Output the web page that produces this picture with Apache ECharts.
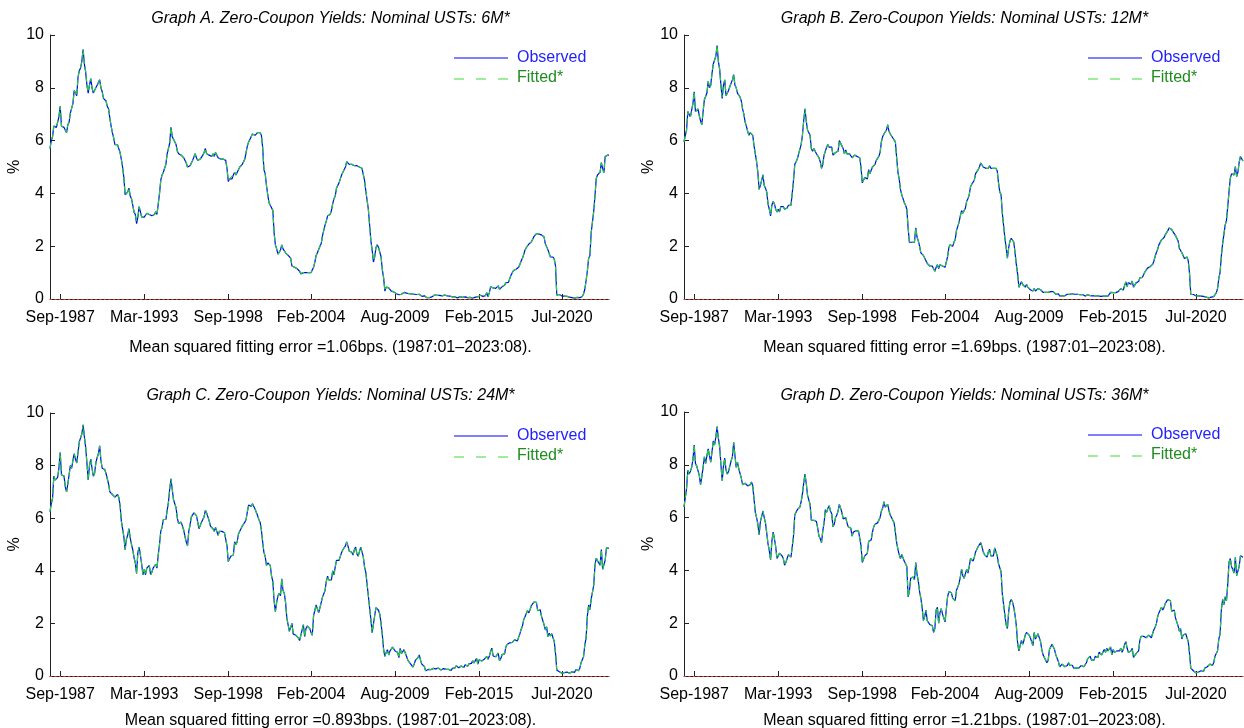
<!DOCTYPE html>
<html>
<head>
<meta charset="utf-8">
<script src="https://cdn.jsdelivr.net/npm/echarts@6/dist/echarts.min.js"></script>
<style>
  html, body { margin: 0; padding: 0; background: #ffffff; }
  #chart { width: 1244px; height: 728px; }
</style>
</head>
<body>
<div id="chart"></div>
<script>
// Monthly zero-coupon yields (%), 1987:01 to 2023:08, one row per year.
const MONTH_NAMES = ['Jan','Feb','Mar','Apr','May','Jun','Jul','Aug','Sep','Oct','Nov','Dec'];
const START_YEAR = 1987;
const N_MONTHS = 440;

const tickLabels = ['Sep-1987','Mar-1993','Sep-1998','Feb-2004','Aug-2009','Feb-2015','Jul-2020'];

const panelTitles = [
  'Graph A. Zero-Coupon Yields: Nominal USTs: 6M*',
  'Graph B. Zero-Coupon Yields: Nominal USTs: 12M*',
  'Graph C. Zero-Coupon Yields: Nominal USTs: 24M*',
  'Graph D. Zero-Coupon Yields: Nominal USTs: 36M*'
];
const panelFooters = [
  'Mean squared fitting error =1.06bps. (1987:01\u20132023:08).',
  'Mean squared fitting error =1.69bps. (1987:01\u20132023:08).',
  'Mean squared fitting error =0.893bps. (1987:01\u20132023:08).',
  'Mean squared fitting error =1.21bps. (1987:01\u20132023:08).'
];

const observed6M = [
  5.70, 6.00, 6.15, 6.55, 6.55, 6.50, 6.55, 6.90, 7.30, 6.55, 6.55, 6.50,
  6.40, 6.30, 6.60, 6.70, 7.05, 7.00, 7.40, 7.90, 7.80, 7.70, 8.40, 8.65,
  8.75, 9.00, 9.45, 8.90, 8.60, 8.10, 7.80, 8.10, 8.35, 8.00, 7.80, 7.90,
  8.00, 8.10, 8.15, 8.30, 8.00, 7.85, 7.60, 7.65, 7.50, 7.30, 7.20, 6.85,
  6.55, 6.30, 6.10, 5.85, 5.80, 5.85, 5.80, 5.55, 5.30, 5.00, 4.60, 3.95,
  3.95, 4.05, 4.20, 3.90, 3.80, 3.75, 3.30, 3.20, 2.85, 3.10, 3.50, 3.30,
  3.10, 3.05, 3.10, 3.05, 3.25, 3.25, 3.20, 3.20, 3.15, 3.10, 3.20, 3.30,
  3.20, 3.60, 4.00, 4.50, 4.70, 4.80, 4.85, 5.10, 5.50, 5.55, 5.90, 6.50,
  6.15, 6.05, 6.10, 5.85, 5.60, 5.50, 5.50, 5.45, 5.50, 5.35, 5.30, 5.15,
  5.00, 4.95, 5.05, 5.15, 5.25, 5.30, 5.50, 5.35, 5.25, 5.20, 5.30, 5.35,
  5.45, 5.55, 5.70, 5.50, 5.50, 5.45, 5.45, 5.40, 5.50, 5.40, 5.55, 5.45,
  5.35, 5.35, 5.30, 5.35, 5.30, 5.30, 5.25, 4.95, 4.45, 4.55, 4.60, 4.55,
  4.70, 4.80, 4.70, 4.75, 4.90, 5.00, 4.95, 5.10, 5.20, 5.30, 5.55, 5.80,
  5.95, 6.00, 6.15, 6.25, 6.25, 6.20, 6.25, 6.30, 6.25, 6.30, 6.20, 5.75,
  4.90, 4.75, 4.30, 3.95, 3.65, 3.55, 3.55, 3.35, 2.50, 2.05, 1.90, 1.70,
  1.75, 1.85, 2.05, 1.90, 1.85, 1.75, 1.70, 1.65, 1.60, 1.55, 1.25, 1.20,
  1.20, 1.15, 1.15, 1.10, 1.05, 0.95, 1.00, 1.00, 1.05, 1.00, 1.00, 1.00,
  1.00, 1.00, 1.05, 1.20, 1.40, 1.65, 1.75, 1.80, 2.00, 2.10, 2.40, 2.60,
  2.80, 2.95, 3.15, 3.10, 3.20, 3.35, 3.60, 3.80, 3.90, 4.20, 4.30, 4.40,
  4.55, 4.70, 4.80, 4.90, 5.00, 5.20, 5.15, 5.10, 5.05, 5.10, 5.05, 5.05,
  5.10, 5.05, 5.00, 5.00, 5.00, 4.95, 4.95, 4.50, 4.10, 4.05, 3.40, 3.35,
  2.20, 1.85, 1.40, 1.60, 1.95, 2.05, 1.95, 1.95, 1.60, 1.10, 0.80, 0.30,
  0.45, 0.50, 0.42, 0.35, 0.30, 0.35, 0.27, 0.25, 0.20, 0.18, 0.16, 0.20,
  0.18, 0.20, 0.25, 0.25, 0.22, 0.22, 0.20, 0.20, 0.19, 0.15, 0.18, 0.20,
  0.17, 0.16, 0.18, 0.12, 0.10, 0.11, 0.12, 0.08, 0.05, 0.07, 0.05, 0.07,
  0.08, 0.13, 0.15, 0.14, 0.14, 0.15, 0.14, 0.13, 0.12, 0.15, 0.15, 0.12,
  0.12, 0.12, 0.11, 0.09, 0.08, 0.10, 0.08, 0.06, 0.04, 0.08, 0.09, 0.10,
  0.06, 0.07, 0.08, 0.05, 0.05, 0.07, 0.06, 0.05, 0.03, 0.05, 0.07, 0.12,
  0.08, 0.08, 0.14, 0.09, 0.10, 0.11, 0.13, 0.24, 0.08, 0.23, 0.46, 0.49,
  0.42, 0.44, 0.40, 0.40, 0.50, 0.37, 0.42, 0.46, 0.46, 0.52, 0.62, 0.63,
  0.63, 0.70, 0.90, 0.96, 1.08, 1.14, 1.13, 1.10, 1.20, 1.31, 1.44, 1.54,
  1.68, 1.85, 1.94, 1.99, 2.08, 2.11, 2.16, 2.23, 2.36, 2.41, 2.48, 2.50,
  2.46, 2.50, 2.43, 2.44, 2.35, 2.09, 2.09, 1.87, 1.82, 1.59, 1.62, 1.59,
  1.51, 1.25, 0.15, 0.11, 0.17, 0.18, 0.11, 0.13, 0.11, 0.12, 0.10, 0.09,
  0.07, 0.05, 0.05, 0.04, 0.03, 0.06, 0.06, 0.06, 0.05, 0.07, 0.10, 0.19,
  0.37, 0.69, 1.06, 1.54, 1.64, 2.51, 2.91, 3.32, 3.92, 4.57, 4.70, 4.76,
  4.80, 5.17, 4.94, 4.78, 5.40, 5.43, 5.45, 5.45
];
const fitted6M = [
  5.70, 6.00, 6.15, 6.55, 6.55, 6.50, 6.55, 6.90, 7.30, 6.55, 6.55, 6.50,
  6.40, 6.30, 6.60, 6.70, 7.05, 7.00, 7.40, 7.90, 7.80, 7.70, 8.40, 8.65,
  8.75, 9.00, 9.45, 8.90, 8.60, 8.10, 7.85, 8.10, 8.35, 8.00, 7.80, 7.90,
  8.00, 8.10, 8.15, 8.30, 8.00, 7.85, 7.60, 7.65, 7.50, 7.30, 7.20, 6.85,
  6.55, 6.30, 6.10, 5.85, 5.80, 5.85, 5.80, 5.55, 5.30, 5.00, 4.60, 3.95,
  3.95, 4.05, 4.20, 3.90, 3.80, 3.75, 3.30, 3.20, 2.95, 3.10, 3.50, 3.30,
  3.10, 3.05, 3.10, 3.05, 3.25, 3.25, 3.20, 3.20, 3.15, 3.10, 3.20, 3.30,
  3.20, 3.60, 4.00, 4.50, 4.70, 4.80, 4.85, 5.10, 5.50, 5.55, 5.90, 6.50,
  6.15, 6.05, 6.10, 5.85, 5.60, 5.50, 5.50, 5.45, 5.50, 5.35, 5.30, 5.15,
  5.00, 4.95, 5.05, 5.15, 5.25, 5.30, 5.50, 5.35, 5.25, 5.20, 5.30, 5.35,
  5.45, 5.55, 5.70, 5.50, 5.50, 5.45, 5.45, 5.40, 5.50, 5.40, 5.55, 5.45,
  5.35, 5.35, 5.30, 5.35, 5.30, 5.30, 5.25, 4.95, 4.50, 4.55, 4.60, 4.55,
  4.70, 4.80, 4.70, 4.75, 4.90, 5.00, 4.95, 5.10, 5.20, 5.30, 5.55, 5.80,
  5.95, 6.00, 6.15, 6.25, 6.25, 6.20, 6.25, 6.30, 6.25, 6.30, 6.20, 5.75,
  4.90, 4.75, 4.30, 3.95, 3.65, 3.55, 3.55, 3.35, 2.50, 2.05, 1.90, 1.70,
  1.75, 1.85, 2.05, 1.90, 1.85, 1.75, 1.70, 1.65, 1.60, 1.55, 1.25, 1.20,
  1.20, 1.15, 1.15, 1.10, 1.05, 0.97, 1.00, 1.00, 1.05, 1.00, 1.00, 1.00,
  1.00, 1.00, 1.05, 1.20, 1.40, 1.65, 1.75, 1.80, 2.00, 2.10, 2.40, 2.60,
  2.80, 2.95, 3.15, 3.10, 3.20, 3.35, 3.60, 3.80, 3.90, 4.20, 4.30, 4.40,
  4.55, 4.70, 4.80, 4.90, 5.00, 5.20, 5.15, 5.10, 5.05, 5.10, 5.05, 5.05,
  5.10, 5.05, 5.00, 5.00, 5.00, 4.95, 4.95, 4.50, 4.10, 4.05, 3.40, 3.35,
  2.20, 1.85, 1.45, 1.60, 1.95, 2.05, 1.95, 1.95, 1.60, 1.10, 0.80, 0.32,
  0.45, 0.50, 0.42, 0.35, 0.30, 0.35, 0.27, 0.25, 0.20, 0.18, 0.16, 0.20,
  0.18, 0.20, 0.25, 0.25, 0.22, 0.22, 0.20, 0.20, 0.19, 0.15, 0.18, 0.20,
  0.17, 0.16, 0.18, 0.12, 0.10, 0.11, 0.12, 0.08, 0.05, 0.07, 0.05, 0.07,
  0.08, 0.13, 0.15, 0.14, 0.14, 0.15, 0.14, 0.13, 0.12, 0.15, 0.15, 0.12,
  0.12, 0.12, 0.11, 0.09, 0.08, 0.10, 0.08, 0.06, 0.04, 0.08, 0.09, 0.10,
  0.06, 0.07, 0.08, 0.05, 0.05, 0.07, 0.06, 0.05, 0.03, 0.05, 0.07, 0.12,
  0.08, 0.08, 0.14, 0.09, 0.10, 0.11, 0.13, 0.24, 0.08, 0.23, 0.46, 0.49,
  0.42, 0.44, 0.40, 0.40, 0.50, 0.37, 0.42, 0.46, 0.46, 0.52, 0.62, 0.63,
  0.63, 0.70, 0.90, 0.96, 1.08, 1.14, 1.13, 1.10, 1.20, 1.31, 1.44, 1.54,
  1.68, 1.85, 1.94, 1.99, 2.08, 2.11, 2.16, 2.23, 2.36, 2.41, 2.48, 2.50,
  2.46, 2.50, 2.43, 2.44, 2.35, 2.09, 2.09, 1.87, 1.82, 1.59, 1.62, 1.59,
  1.51, 1.25, 0.15, 0.11, 0.17, 0.18, 0.11, 0.13, 0.11, 0.12, 0.10, 0.09,
  0.07, 0.05, 0.05, 0.04, 0.03, 0.06, 0.06, 0.06, 0.05, 0.07, 0.10, 0.19,
  0.37, 0.69, 1.06, 1.54, 1.64, 2.51, 2.91, 3.32, 3.92, 4.57, 4.70, 4.76,
  4.80, 5.17, 4.94, 4.78, 5.40, 5.43, 5.45, 5.45
];

const observed12M = [
  5.95, 6.20, 6.40, 7.10, 7.00, 6.90, 6.95, 7.40, 7.85, 7.10, 7.05, 7.20,
  6.95, 6.75, 6.60, 7.10, 7.55, 7.60, 7.80, 8.25, 8.00, 8.10, 8.55, 8.90,
  8.95, 9.20, 9.60, 9.00, 8.70, 8.10, 7.60, 8.10, 8.30, 7.70, 7.65, 7.90,
  8.05, 8.10, 8.30, 8.50, 8.10, 8.00, 7.80, 7.75, 7.65, 7.50, 7.20, 7.00,
  6.70, 6.55, 6.35, 6.20, 6.30, 6.25, 6.20, 5.80, 5.50, 5.20, 4.80, 4.15,
  4.30, 4.50, 4.70, 4.30, 4.20, 4.05, 3.60, 3.40, 3.15, 3.55, 3.70, 3.60,
  3.40, 3.30, 3.40, 3.30, 3.50, 3.50, 3.50, 3.40, 3.40, 3.45, 3.55, 3.60,
  3.55, 4.00, 4.50, 5.10, 5.20, 5.30, 5.50, 5.55, 5.85, 6.20, 6.75, 7.20,
  6.75, 6.40, 6.35, 6.20, 5.70, 5.60, 5.70, 5.70, 5.50, 5.45, 5.35, 5.20,
  4.95, 5.10, 5.45, 5.60, 5.75, 5.85, 5.75, 5.80, 5.75, 5.45, 5.40, 5.55,
  5.55, 5.60, 6.00, 5.90, 5.80, 5.70, 5.50, 5.65, 5.50, 5.45, 5.50, 5.45,
  5.35, 5.40, 5.45, 5.40, 5.40, 5.40, 5.35, 5.00, 4.40, 4.35, 4.60, 4.60,
  4.55, 4.90, 4.75, 4.80, 5.00, 5.05, 5.10, 5.25, 5.25, 5.40, 5.55, 5.95,
  6.15, 6.25, 6.25, 6.40, 6.60, 6.35, 6.25, 6.25, 6.10, 6.10, 5.95, 5.35,
  4.80, 4.55, 4.15, 3.95, 3.80, 3.65, 3.55, 3.40, 2.70, 2.15, 2.20, 2.15,
  2.20, 2.15, 2.70, 2.35, 2.20, 2.00, 1.75, 1.70, 1.65, 1.55, 1.45, 1.35,
  1.30, 1.25, 1.25, 1.25, 1.15, 1.05, 1.20, 1.30, 1.15, 1.30, 1.30, 1.25,
  1.20, 1.20, 1.15, 1.60, 1.95, 2.05, 2.00, 2.00, 2.15, 2.25, 2.60, 2.75,
  2.90, 3.15, 3.35, 3.25, 3.35, 3.45, 3.70, 3.80, 3.95, 4.25, 4.35, 4.35,
  4.50, 4.75, 4.80, 4.90, 5.00, 5.15, 5.10, 5.00, 4.95, 4.95, 4.90, 4.95,
  5.05, 4.95, 4.90, 4.95, 4.95, 4.95, 4.85, 4.40, 4.05, 3.95, 3.25, 3.30,
  2.30, 1.95, 1.55, 1.95, 2.20, 2.30, 2.25, 2.15, 1.75, 1.30, 0.95, 0.45,
  0.50, 0.65, 0.55, 0.50, 0.45, 0.55, 0.45, 0.40, 0.35, 0.35, 0.30, 0.40,
  0.30, 0.30, 0.40, 0.40, 0.35, 0.30, 0.25, 0.25, 0.25, 0.20, 0.25, 0.28,
  0.28, 0.28, 0.28, 0.24, 0.18, 0.18, 0.20, 0.12, 0.12, 0.12, 0.12, 0.12,
  0.14, 0.18, 0.20, 0.18, 0.19, 0.20, 0.18, 0.18, 0.17, 0.18, 0.18, 0.16,
  0.15, 0.17, 0.14, 0.11, 0.13, 0.16, 0.12, 0.13, 0.10, 0.12, 0.12, 0.13,
  0.11, 0.12, 0.13, 0.10, 0.10, 0.11, 0.13, 0.11, 0.13, 0.11, 0.14, 0.25,
  0.20, 0.24, 0.26, 0.24, 0.26, 0.28, 0.33, 0.39, 0.33, 0.34, 0.51, 0.65,
  0.47, 0.62, 0.59, 0.56, 0.68, 0.45, 0.51, 0.61, 0.59, 0.66, 0.80, 0.85,
  0.82, 0.82, 1.03, 1.07, 1.17, 1.24, 1.22, 1.23, 1.31, 1.43, 1.62, 1.76,
  1.89, 2.06, 2.09, 2.24, 2.23, 2.33, 2.44, 2.46, 2.59, 2.69, 2.70, 2.63,
  2.55, 2.54, 2.40, 2.39, 2.21, 1.92, 1.96, 1.75, 1.78, 1.53, 1.59, 1.59,
  1.45, 0.98, 0.17, 0.16, 0.17, 0.16, 0.12, 0.12, 0.12, 0.13, 0.11, 0.10,
  0.10, 0.08, 0.07, 0.05, 0.04, 0.07, 0.07, 0.07, 0.09, 0.15, 0.23, 0.39,
  0.78, 1.01, 1.63, 2.10, 2.08, 2.80, 2.98, 3.50, 4.05, 4.57, 4.74, 4.73,
  4.70, 5.02, 4.64, 4.80, 5.18, 5.40, 5.37, 5.23
];
const fitted12M = [
  5.95, 6.20, 6.40, 7.10, 7.00, 6.90, 6.95, 7.40, 7.85, 7.10, 7.05, 7.20,
  6.95, 6.75, 6.60, 7.10, 7.55, 7.60, 7.80, 8.25, 8.00, 8.10, 8.55, 8.90,
  8.95, 9.20, 9.60, 9.00, 8.70, 8.10, 7.65, 8.10, 8.30, 7.70, 7.65, 7.90,
  8.05, 8.10, 8.30, 8.50, 8.10, 8.00, 7.80, 7.75, 7.65, 7.50, 7.20, 7.00,
  6.70, 6.55, 6.35, 6.20, 6.30, 6.25, 6.20, 5.80, 5.50, 5.20, 4.80, 4.15,
  4.30, 4.50, 4.70, 4.30, 4.20, 4.05, 3.60, 3.40, 3.20, 3.55, 3.70, 3.60,
  3.40, 3.30, 3.40, 3.30, 3.50, 3.50, 3.50, 3.40, 3.40, 3.45, 3.55, 3.60,
  3.55, 4.00, 4.50, 5.10, 5.20, 5.30, 5.50, 5.55, 5.85, 6.20, 6.75, 7.20,
  6.75, 6.40, 6.35, 6.20, 5.70, 5.60, 5.70, 5.70, 5.50, 5.45, 5.35, 5.20,
  4.95, 5.10, 5.45, 5.60, 5.75, 5.85, 5.75, 5.80, 5.75, 5.45, 5.40, 5.55,
  5.55, 5.60, 6.00, 5.90, 5.80, 5.70, 5.50, 5.65, 5.50, 5.45, 5.50, 5.45,
  5.35, 5.40, 5.45, 5.40, 5.40, 5.40, 5.35, 5.00, 4.40, 4.35, 4.60, 4.60,
  4.55, 4.90, 4.75, 4.80, 5.00, 5.05, 5.10, 5.25, 5.25, 5.40, 5.55, 5.95,
  6.15, 6.25, 6.25, 6.40, 6.60, 6.35, 6.25, 6.25, 6.10, 6.10, 5.95, 5.35,
  4.80, 4.55, 4.15, 3.95, 3.80, 3.65, 3.55, 3.40, 2.70, 2.15, 2.20, 2.15,
  2.20, 2.15, 2.70, 2.35, 2.20, 2.00, 1.75, 1.70, 1.65, 1.55, 1.45, 1.35,
  1.30, 1.25, 1.25, 1.25, 1.15, 1.05, 1.20, 1.30, 1.15, 1.30, 1.30, 1.25,
  1.20, 1.20, 1.15, 1.60, 1.95, 2.05, 2.00, 2.00, 2.15, 2.25, 2.60, 2.75,
  2.90, 3.15, 3.35, 3.25, 3.35, 3.45, 3.70, 3.80, 3.95, 4.25, 4.35, 4.35,
  4.50, 4.75, 4.80, 4.90, 5.00, 5.15, 5.10, 5.00, 4.95, 4.95, 4.90, 4.95,
  5.05, 4.95, 4.90, 4.95, 4.95, 4.95, 4.85, 4.40, 4.05, 3.95, 3.25, 3.30,
  2.30, 1.95, 1.55, 1.95, 2.20, 2.30, 2.25, 2.15, 1.75, 1.30, 0.95, 0.45,
  0.50, 0.65, 0.55, 0.50, 0.45, 0.55, 0.45, 0.40, 0.35, 0.35, 0.30, 0.40,
  0.30, 0.30, 0.40, 0.40, 0.35, 0.30, 0.25, 0.25, 0.25, 0.20, 0.25, 0.28,
  0.28, 0.28, 0.28, 0.24, 0.18, 0.18, 0.20, 0.12, 0.12, 0.12, 0.12, 0.12,
  0.14, 0.18, 0.20, 0.18, 0.19, 0.20, 0.18, 0.18, 0.17, 0.18, 0.18, 0.16,
  0.15, 0.17, 0.14, 0.11, 0.13, 0.16, 0.12, 0.13, 0.10, 0.12, 0.12, 0.13,
  0.11, 0.12, 0.13, 0.10, 0.10, 0.11, 0.13, 0.11, 0.13, 0.11, 0.14, 0.25,
  0.20, 0.24, 0.26, 0.24, 0.26, 0.28, 0.33, 0.39, 0.33, 0.34, 0.51, 0.65,
  0.47, 0.62, 0.59, 0.56, 0.68, 0.45, 0.51, 0.61, 0.59, 0.66, 0.80, 0.85,
  0.82, 0.82, 1.03, 1.07, 1.17, 1.24, 1.22, 1.23, 1.31, 1.43, 1.62, 1.76,
  1.89, 2.06, 2.09, 2.24, 2.23, 2.33, 2.44, 2.46, 2.59, 2.69, 2.70, 2.63,
  2.55, 2.54, 2.40, 2.39, 2.21, 1.92, 1.96, 1.75, 1.78, 1.53, 1.59, 1.59,
  1.45, 0.98, 0.17, 0.16, 0.17, 0.16, 0.12, 0.12, 0.12, 0.13, 0.11, 0.10,
  0.10, 0.08, 0.07, 0.05, 0.04, 0.07, 0.07, 0.07, 0.09, 0.15, 0.23, 0.39,
  0.78, 1.01, 1.63, 2.10, 2.08, 2.80, 2.98, 3.50, 4.05, 4.57, 4.74, 4.73,
  4.70, 5.02, 4.64, 4.80, 5.18, 5.40, 5.37, 5.23
];

const observed24M = [
  6.25, 6.55, 6.75, 7.60, 7.45, 7.40, 7.55, 7.90, 8.50, 7.65, 7.65, 7.60,
  7.20, 7.00, 7.30, 7.65, 8.00, 7.90, 8.20, 8.45, 8.25, 8.10, 8.50, 8.90,
  8.90, 9.20, 9.55, 9.10, 8.70, 8.10, 7.45, 8.00, 8.25, 7.90, 7.60, 7.70,
  8.10, 8.30, 8.45, 8.75, 8.20, 7.90, 7.95, 7.85, 7.70, 7.50, 7.30, 7.00,
  6.95, 6.90, 6.95, 6.80, 6.85, 6.90, 6.80, 6.50, 5.90, 5.60, 5.30, 4.80,
  5.20, 5.35, 5.60, 5.25, 5.00, 4.80, 4.50, 4.30, 3.90, 4.70, 4.90, 4.60,
  4.25, 3.85, 4.05, 3.85, 4.10, 4.15, 4.20, 3.85, 3.95, 4.10, 4.15, 4.25,
  4.10, 4.60, 5.00, 5.50, 5.65, 5.95, 6.00, 5.95, 6.30, 6.60, 7.10, 7.50,
  7.10, 6.70, 6.65, 6.40, 6.00, 5.80, 5.80, 5.85, 5.80, 5.55, 5.30, 5.10,
  4.95, 5.50, 5.75, 6.05, 6.10, 6.20, 6.25, 6.10, 6.05, 5.60, 5.55, 5.85,
  5.95, 6.05, 6.30, 6.20, 6.05, 5.90, 5.70, 5.75, 5.60, 5.50, 5.65, 5.60,
  5.35, 5.50, 5.50, 5.50, 5.45, 5.45, 5.45, 4.95, 4.35, 4.35, 4.55, 4.55,
  4.60, 5.10, 5.00, 5.10, 5.40, 5.50, 5.60, 5.70, 5.70, 5.85, 5.95, 6.25,
  6.50, 6.55, 6.45, 6.55, 6.60, 6.35, 6.30, 6.10, 5.95, 5.85, 5.55, 5.10,
  4.70, 4.55, 4.20, 4.30, 4.25, 4.20, 3.80, 3.60, 2.85, 2.45, 2.80, 3.05,
  3.15, 3.05, 3.70, 3.25, 3.15, 2.80, 2.20, 2.15, 1.70, 1.85, 2.00, 1.60,
  1.65, 1.55, 1.50, 1.45, 1.35, 1.30, 1.75, 1.95, 1.50, 1.80, 1.90, 1.85,
  1.80, 1.65, 1.55, 2.30, 2.50, 2.70, 2.70, 2.40, 2.60, 2.55, 3.00, 3.05,
  3.25, 3.60, 3.80, 3.65, 3.60, 3.65, 4.00, 3.85, 4.15, 4.40, 4.40, 4.40,
  4.55, 4.70, 4.80, 4.85, 4.95, 5.10, 4.95, 4.75, 4.70, 4.70, 4.60, 4.80,
  4.90, 4.65, 4.55, 4.55, 4.90, 4.85, 4.55, 4.15, 3.95, 3.90, 3.05, 3.05,
  2.15, 1.65, 1.60, 2.30, 2.60, 2.60, 2.50, 2.35, 2.00, 1.55, 1.00, 0.75,
  0.90, 1.00, 0.80, 0.95, 0.90, 1.10, 1.10, 0.95, 0.95, 0.90, 0.70, 1.05,
  0.85, 0.85, 1.00, 0.95, 0.75, 0.60, 0.55, 0.47, 0.42, 0.34, 0.45, 0.60,
  0.55, 0.70, 0.80, 0.60, 0.45, 0.45, 0.36, 0.20, 0.24, 0.25, 0.25, 0.24,
  0.22, 0.29, 0.33, 0.27, 0.26, 0.30, 0.23, 0.23, 0.23, 0.28, 0.25, 0.25,
  0.26, 0.25, 0.24, 0.21, 0.29, 0.36, 0.31, 0.39, 0.32, 0.31, 0.28, 0.38,
  0.34, 0.32, 0.43, 0.41, 0.37, 0.46, 0.53, 0.48, 0.58, 0.50, 0.47, 0.67,
  0.45, 0.62, 0.56, 0.57, 0.61, 0.64, 0.67, 0.74, 0.64, 0.75, 0.94, 1.06,
  0.76, 0.78, 0.73, 0.78, 0.87, 0.58, 0.66, 0.81, 0.77, 0.84, 1.11, 1.20,
  1.21, 1.26, 1.27, 1.28, 1.28, 1.38, 1.36, 1.33, 1.47, 1.60, 1.78, 1.89,
  2.14, 2.25, 2.27, 2.49, 2.40, 2.52, 2.67, 2.63, 2.81, 2.87, 2.80, 2.48,
  2.45, 2.52, 2.27, 2.27, 1.95, 1.75, 1.87, 1.50, 1.63, 1.52, 1.61, 1.58,
  1.31, 0.86, 0.23, 0.20, 0.16, 0.16, 0.11, 0.14, 0.13, 0.14, 0.15, 0.12,
  0.11, 0.13, 0.16, 0.16, 0.14, 0.25, 0.19, 0.20, 0.28, 0.50, 0.52, 0.73,
  1.18, 1.44, 2.28, 2.70, 2.53, 2.92, 2.89, 3.45, 4.22, 4.48, 4.38, 4.41,
  4.21, 4.81, 4.06, 4.04, 4.40, 4.87, 4.88, 4.85
];
const fitted24M = [
  6.25, 6.55, 6.75, 7.60, 7.45, 7.40, 7.55, 7.90, 8.50, 7.65, 7.65, 7.60,
  7.20, 7.00, 7.30, 7.65, 8.00, 7.90, 8.20, 8.45, 8.25, 8.10, 8.50, 8.90,
  8.90, 9.20, 9.55, 9.10, 8.70, 8.10, 7.45, 8.00, 8.25, 7.90, 7.60, 7.70,
  8.10, 8.30, 8.45, 8.75, 8.20, 7.90, 7.95, 7.85, 7.70, 7.50, 7.30, 7.00,
  6.95, 6.90, 6.95, 6.80, 6.85, 6.90, 6.80, 6.50, 5.90, 5.60, 5.30, 4.80,
  5.20, 5.35, 5.60, 5.25, 5.00, 4.80, 4.50, 4.30, 3.90, 4.70, 4.90, 4.60,
  4.25, 3.85, 4.05, 3.85, 4.10, 4.15, 4.20, 3.85, 3.95, 4.10, 4.15, 4.25,
  4.10, 4.60, 5.00, 5.50, 5.65, 5.95, 6.00, 5.95, 6.30, 6.60, 7.10, 7.50,
  7.10, 6.70, 6.65, 6.40, 6.00, 5.80, 5.80, 5.85, 5.80, 5.55, 5.30, 5.10,
  4.95, 5.50, 5.75, 6.05, 6.10, 6.20, 6.25, 6.10, 6.05, 5.60, 5.55, 5.85,
  5.95, 6.05, 6.30, 6.20, 6.05, 5.90, 5.70, 5.75, 5.60, 5.50, 5.65, 5.60,
  5.35, 5.50, 5.50, 5.50, 5.45, 5.45, 5.45, 4.95, 4.35, 4.35, 4.55, 4.55,
  4.60, 5.10, 5.00, 5.10, 5.40, 5.50, 5.60, 5.70, 5.70, 5.85, 5.95, 6.25,
  6.50, 6.55, 6.45, 6.55, 6.60, 6.35, 6.30, 6.10, 5.95, 5.85, 5.55, 5.10,
  4.70, 4.55, 4.20, 4.30, 4.25, 4.20, 3.80, 3.60, 2.85, 2.45, 2.80, 3.05,
  3.15, 3.05, 3.70, 3.25, 3.15, 2.80, 2.20, 2.15, 1.70, 1.85, 2.00, 1.60,
  1.65, 1.55, 1.50, 1.45, 1.35, 1.30, 1.75, 1.95, 1.50, 1.80, 1.90, 1.85,
  1.80, 1.65, 1.55, 2.30, 2.50, 2.70, 2.70, 2.40, 2.60, 2.55, 3.00, 3.05,
  3.25, 3.60, 3.80, 3.65, 3.60, 3.65, 4.00, 3.85, 4.15, 4.40, 4.40, 4.40,
  4.55, 4.70, 4.80, 4.85, 4.95, 5.10, 4.95, 4.75, 4.70, 4.70, 4.60, 4.80,
  4.90, 4.65, 4.55, 4.55, 4.90, 4.85, 4.55, 4.15, 3.95, 3.90, 3.05, 3.05,
  2.15, 1.65, 1.60, 2.30, 2.60, 2.60, 2.50, 2.35, 2.00, 1.55, 1.00, 0.75,
  0.90, 1.00, 0.80, 0.95, 0.90, 1.10, 1.10, 0.95, 0.95, 0.90, 0.70, 1.05,
  0.85, 0.85, 1.00, 0.95, 0.75, 0.60, 0.55, 0.47, 0.42, 0.34, 0.45, 0.60,
  0.55, 0.70, 0.80, 0.60, 0.45, 0.45, 0.36, 0.20, 0.24, 0.25, 0.25, 0.24,
  0.22, 0.29, 0.33, 0.27, 0.26, 0.30, 0.23, 0.23, 0.23, 0.28, 0.25, 0.25,
  0.26, 0.25, 0.24, 0.21, 0.29, 0.36, 0.31, 0.39, 0.32, 0.31, 0.28, 0.38,
  0.34, 0.32, 0.43, 0.41, 0.37, 0.46, 0.53, 0.48, 0.58, 0.50, 0.47, 0.67,
  0.45, 0.62, 0.56, 0.57, 0.61, 0.64, 0.67, 0.74, 0.64, 0.75, 0.94, 1.06,
  0.76, 0.78, 0.73, 0.78, 0.87, 0.58, 0.66, 0.81, 0.77, 0.84, 1.11, 1.20,
  1.21, 1.26, 1.27, 1.28, 1.28, 1.38, 1.36, 1.33, 1.47, 1.60, 1.78, 1.89,
  2.14, 2.25, 2.27, 2.49, 2.40, 2.52, 2.67, 2.63, 2.81, 2.87, 2.80, 2.48,
  2.45, 2.52, 2.27, 2.27, 1.95, 1.75, 1.87, 1.50, 1.63, 1.52, 1.61, 1.58,
  1.31, 0.86, 0.23, 0.20, 0.16, 0.16, 0.11, 0.14, 0.13, 0.14, 0.15, 0.12,
  0.11, 0.13, 0.16, 0.16, 0.14, 0.25, 0.19, 0.20, 0.28, 0.50, 0.52, 0.73,
  1.18, 1.44, 2.28, 2.70, 2.53, 2.92, 2.89, 3.45, 4.22, 4.48, 4.38, 4.41,
  4.21, 4.81, 4.06, 4.04, 4.40, 4.87, 4.88, 4.85
];

const observed36M = [
  6.40, 6.75, 7.10, 7.80, 7.65, 7.75, 7.90, 8.20, 8.75, 8.05, 7.95, 7.95,
  7.60, 7.25, 7.55, 7.90, 8.30, 8.05, 8.35, 8.60, 8.35, 8.10, 8.50, 8.90,
  8.75, 9.05, 9.45, 9.00, 8.70, 8.00, 7.40, 7.95, 8.25, 7.80, 7.65, 7.75,
  7.95, 8.15, 8.30, 8.85, 8.35, 7.90, 8.10, 7.85, 7.80, 7.50, 7.25, 7.25,
  7.30, 7.25, 7.20, 7.15, 7.25, 7.35, 7.20, 6.70, 6.20, 6.00, 5.75, 5.35,
  5.85, 6.05, 6.25, 6.00, 5.80, 5.40, 5.00, 4.75, 4.40, 5.10, 5.45, 5.20,
  4.90, 4.45, 4.55, 4.65, 4.60, 4.55, 4.45, 4.20, 4.30, 4.45, 4.60, 4.55,
  4.50, 4.45, 5.30, 6.10, 6.20, 6.30, 6.30, 6.40, 6.60, 6.90, 7.30, 7.65,
  7.30, 6.85, 6.80, 6.50, 5.90, 5.85, 5.90, 5.90, 5.85, 5.60, 5.30, 5.20,
  5.05, 5.50, 5.80, 6.30, 6.20, 6.35, 6.45, 6.25, 6.15, 5.65, 5.75, 6.00,
  6.10, 6.25, 6.50, 6.45, 6.20, 5.95, 5.90, 6.00, 5.80, 5.65, 5.70, 5.60,
  5.30, 5.45, 5.50, 5.50, 5.55, 5.50, 5.45, 4.95, 4.30, 4.35, 4.55, 4.55,
  4.65, 5.10, 5.10, 5.15, 5.45, 5.65, 5.75, 5.80, 5.80, 5.85, 6.00, 6.25,
  6.35, 6.60, 6.40, 6.45, 6.50, 6.25, 6.10, 6.05, 5.90, 5.80, 5.45, 5.05,
  4.80, 4.60, 4.45, 4.60, 4.55, 4.35, 4.25, 4.15, 3.00, 3.20, 3.70, 3.75,
  3.75, 3.65, 4.30, 3.85, 3.60, 3.20, 2.95, 2.60, 2.10, 2.25, 2.50, 2.10,
  2.15, 1.95, 1.95, 1.90, 1.65, 1.80, 2.50, 2.60, 2.00, 2.40, 2.55, 2.35,
  2.20, 2.05, 2.05, 3.00, 3.20, 3.25, 3.15, 2.95, 2.90, 2.85, 3.25, 3.25,
  3.50, 3.75, 4.05, 3.80, 3.70, 3.75, 4.05, 3.90, 4.15, 4.45, 4.40, 4.35,
  4.50, 4.70, 4.80, 4.90, 4.95, 5.05, 4.90, 4.70, 4.60, 4.60, 4.50, 4.70,
  4.80, 4.55, 4.50, 4.55, 4.85, 4.90, 4.55, 4.25, 4.10, 3.95, 3.10, 3.05,
  2.30, 1.95, 1.80, 2.45, 2.80, 2.90, 2.80, 2.60, 2.30, 1.90, 1.25, 0.95,
  1.15, 1.35, 1.20, 1.35, 1.55, 1.65, 1.60, 1.55, 1.45, 1.40, 1.15, 1.65,
  1.40, 1.35, 1.60, 1.55, 1.30, 1.00, 0.80, 0.70, 0.65, 0.50, 0.60, 1.00,
  1.00, 1.20, 1.25, 1.00, 0.80, 0.80, 0.55, 0.35, 0.40, 0.45, 0.40, 0.35,
  0.30, 0.40, 0.50, 0.40, 0.35, 0.40, 0.30, 0.30, 0.30, 0.35, 0.30, 0.35,
  0.40, 0.35, 0.35, 0.30, 0.50, 0.65, 0.60, 0.75, 0.60, 0.55, 0.60, 0.75,
  0.70, 0.70, 0.90, 0.85, 0.80, 0.85, 1.00, 0.90, 1.05, 0.95, 0.95, 1.10,
  0.80, 1.00, 0.90, 0.90, 0.95, 1.00, 0.95, 1.05, 0.90, 1.00, 1.20, 1.30,
  1.05, 0.90, 0.95, 0.95, 1.05, 0.70, 0.75, 0.85, 0.85, 0.95, 1.35, 1.50,
  1.45, 1.50, 1.50, 1.45, 1.45, 1.55, 1.50, 1.45, 1.60, 1.75, 1.85, 1.98,
  2.25, 2.40, 2.40, 2.60, 2.50, 2.60, 2.75, 2.70, 2.90, 2.95, 2.85, 2.45,
  2.45, 2.50, 2.20, 2.25, 1.90, 1.70, 1.80, 1.40, 1.55, 1.50, 1.60, 1.60,
  1.30, 0.85, 0.30, 0.25, 0.20, 0.20, 0.12, 0.15, 0.15, 0.20, 0.20, 0.17,
  0.17, 0.30, 0.35, 0.35, 0.30, 0.45, 0.40, 0.40, 0.50, 0.75, 0.85, 0.95,
  1.40, 1.60, 2.50, 2.90, 2.70, 3.00, 2.85, 3.45, 4.30, 4.45, 4.15, 4.20,
  3.90, 4.50, 3.80, 3.75, 4.15, 4.55, 4.50, 4.50
];
const fitted36M = [
  6.40, 6.75, 7.10, 7.80, 7.65, 7.75, 7.90, 8.20, 8.75, 8.05, 7.95, 7.95,
  7.60, 7.25, 7.55, 7.90, 8.30, 8.05, 8.35, 8.60, 8.35, 8.10, 8.50, 8.90,
  8.75, 9.05, 9.45, 9.00, 8.70, 8.00, 7.40, 7.95, 8.25, 7.80, 7.65, 7.75,
  7.95, 8.15, 8.30, 8.85, 8.35, 7.90, 8.10, 7.85, 7.80, 7.50, 7.25, 7.25,
  7.30, 7.25, 7.20, 7.15, 7.25, 7.35, 7.20, 6.70, 6.20, 6.00, 5.75, 5.35,
  5.85, 6.05, 6.25, 6.00, 5.80, 5.40, 5.00, 4.75, 4.40, 5.10, 5.45, 5.20,
  4.90, 4.45, 4.55, 4.65, 4.60, 4.55, 4.45, 4.20, 4.30, 4.45, 4.60, 4.55,
  4.50, 4.45, 5.30, 6.10, 6.20, 6.30, 6.30, 6.40, 6.60, 6.90, 7.30, 7.65,
  7.30, 6.85, 6.80, 6.50, 5.90, 5.85, 5.90, 5.90, 5.85, 5.60, 5.30, 5.20,
  5.05, 5.50, 5.80, 6.30, 6.20, 6.35, 6.45, 6.25, 6.15, 5.65, 5.75, 6.00,
  6.10, 6.25, 6.50, 6.45, 6.20, 5.95, 5.90, 6.00, 5.80, 5.65, 5.70, 5.60,
  5.30, 5.45, 5.50, 5.50, 5.55, 5.50, 5.45, 4.95, 4.30, 4.35, 4.55, 4.55,
  4.65, 5.10, 5.10, 5.15, 5.45, 5.65, 5.75, 5.80, 5.80, 5.85, 6.00, 6.25,
  6.35, 6.60, 6.40, 6.45, 6.50, 6.25, 6.10, 6.05, 5.90, 5.80, 5.45, 5.05,
  4.80, 4.60, 4.45, 4.60, 4.55, 4.35, 4.25, 4.15, 3.00, 3.20, 3.70, 3.75,
  3.75, 3.65, 4.30, 3.85, 3.60, 3.20, 2.95, 2.60, 2.10, 2.25, 2.50, 2.10,
  2.15, 1.95, 1.95, 1.90, 1.65, 1.80, 2.50, 2.60, 2.00, 2.40, 2.55, 2.35,
  2.20, 2.05, 2.05, 3.00, 3.20, 3.25, 3.15, 2.95, 2.90, 2.85, 3.25, 3.25,
  3.50, 3.75, 4.05, 3.80, 3.70, 3.75, 4.05, 3.90, 4.15, 4.45, 4.40, 4.35,
  4.50, 4.70, 4.80, 4.90, 4.95, 5.05, 4.90, 4.70, 4.60, 4.60, 4.50, 4.70,
  4.80, 4.55, 4.50, 4.55, 4.85, 4.90, 4.55, 4.25, 4.10, 3.95, 3.10, 3.05,
  2.30, 1.95, 1.80, 2.45, 2.80, 2.90, 2.80, 2.60, 2.30, 1.90, 1.25, 0.95,
  1.15, 1.35, 1.20, 1.35, 1.55, 1.65, 1.60, 1.55, 1.45, 1.40, 1.15, 1.65,
  1.40, 1.35, 1.60, 1.55, 1.30, 1.00, 0.80, 0.70, 0.65, 0.50, 0.60, 1.00,
  1.00, 1.20, 1.25, 1.00, 0.80, 0.80, 0.55, 0.35, 0.40, 0.45, 0.40, 0.35,
  0.30, 0.40, 0.50, 0.40, 0.35, 0.40, 0.30, 0.30, 0.30, 0.35, 0.30, 0.35,
  0.40, 0.35, 0.35, 0.30, 0.50, 0.65, 0.60, 0.75, 0.60, 0.55, 0.60, 0.75,
  0.70, 0.70, 0.90, 0.85, 0.80, 0.85, 1.00, 0.90, 1.05, 0.95, 0.95, 1.10,
  0.80, 1.00, 0.90, 0.90, 0.95, 1.00, 0.95, 1.05, 0.90, 1.00, 1.20, 1.30,
  1.05, 0.90, 0.95, 0.95, 1.05, 0.70, 0.75, 0.85, 0.85, 0.95, 1.35, 1.50,
  1.45, 1.50, 1.50, 1.45, 1.45, 1.55, 1.50, 1.45, 1.60, 1.75, 1.85, 1.98,
  2.25, 2.40, 2.40, 2.60, 2.50, 2.60, 2.75, 2.70, 2.90, 2.95, 2.85, 2.45,
  2.45, 2.50, 2.20, 2.25, 1.90, 1.70, 1.80, 1.40, 1.55, 1.50, 1.60, 1.60,
  1.30, 0.85, 0.30, 0.25, 0.20, 0.20, 0.12, 0.15, 0.15, 0.20, 0.20, 0.17,
  0.17, 0.30, 0.35, 0.35, 0.30, 0.45, 0.40, 0.40, 0.50, 0.75, 0.85, 0.95,
  1.40, 1.60, 2.50, 2.90, 2.70, 3.00, 2.85, 3.45, 4.30, 4.45, 4.15, 4.20,
  3.90, 4.50, 3.80, 3.75, 4.15, 4.55, 4.50, 4.50
];

// Month categories for the shared time axis.
const months = [];
for (let i = 0; i < N_MONTHS; i++) {
  months.push(MONTH_NAMES[i % 12] + '-' + (START_YEAR + Math.floor(i / 12)));
}
const tickIndexSet = new Set(tickLabels.map(l => months.indexOf(l)));

const panels = [
  { obs: observed6M,  fit: fitted6M },
  { obs: observed12M, fit: fitted12M },
  { obs: observed24M, fit: fitted24M },
  { obs: observed36M, fit: fitted36M }
];

const FONT = '"Liberation Sans", Arial, Helvetica, sans-serif';
const BLUE = '#0000ff';
const GREEN = '#22cc3a';
const AXIS_COLOR = '#222222';

// Panel frames: [left, top, width, height, title top, footer top]
const frames = [
  [50, 35, 559, 264, 11, 340],
  [684, 35, 559, 264, 11, 340],
  [50, 413, 559, 263, 388, 713],
  [684, 412, 559, 264, 388, 713]
];

const grid = [], xAxis = [], yAxis = [], series = [], title = [], graphic = [];

frames.forEach((f, i) => {
  const [left, top, width, height, titleTop, footerTop] = f;
  const cx = left + width / 2 + 1;
  grid.push({ left, top, width, height, containLabel: false });

  xAxis.push({
    type: 'category', gridIndex: i, data: months, boundaryGap: false,
    axisLine: { show: true, lineStyle: { color: AXIS_COLOR, width: 1 } },
    axisTick: { show: true, inside: true, length: 5, interval: idx => tickIndexSet.has(idx),
                lineStyle: { color: AXIS_COLOR } },
    axisLabel: { interval: idx => tickIndexSet.has(idx), margin: 11, color: '#000',
                 fontSize: 16, fontFamily: FONT },
    splitLine: { show: false }
  });

  yAxis.push({
    type: 'value', gridIndex: i, min: 0, max: 10, interval: 2,
    name: '%', nameLocation: 'middle', nameGap: 24,
    nameTextStyle: { color: '#000', fontSize: 16, fontFamily: FONT },
    axisLine: { show: true, lineStyle: { color: AXIS_COLOR, width: 1 } },
    axisTick: { show: true, inside: true, length: 5, lineStyle: { color: AXIS_COLOR } },
    axisLabel: { margin: 6, color: '#000', fontSize: 16, fontFamily: FONT },
    splitLine: { show: false }
  });

  series.push({
    name: 'Observed', type: 'line', xAxisIndex: i, yAxisIndex: i,
    data: panels[i].obs, showSymbol: false, symbol: 'none', animation: false,
    lineStyle: { color: BLUE, width: 1.2 }, z: 2,
    markLine: {
      silent: true, symbol: 'none', animation: false, label: { show: false },
      lineStyle: { color: '#ee3333', type: [2, 2.5], width: 1.2 },
      data: [{ yAxis: 0 }]
    }
  });
  series.push({
    name: 'Fitted*', type: 'line', xAxisIndex: i, yAxisIndex: i,
    data: panels[i].fit, showSymbol: false, symbol: 'none', animation: false,
    lineStyle: { color: GREEN, width: 1.2, type: [6, 3] }, z: 3
  });

  title.push({
    text: panelTitles[i], left: cx, top: titleTop, textAlign: 'center', padding: 0,
    textStyle: { fontSize: 16, fontStyle: 'italic', fontWeight: 'normal', color: '#000', fontFamily: FONT }
  });
  title.push({
    text: panelFooters[i], left: cx, top: footerTop, textAlign: 'center', padding: 0,
    textStyle: { fontSize: 16, fontWeight: 'normal', color: '#000', fontFamily: FONT }
  });

  // Legend: solid blue sample for observed, light-green dashed sample for fitted
  const lx = left + 404, ly = top + 23;
  graphic.push({ type: 'line', shape: { x1: lx, y1: ly, x2: lx + 54, y2: ly },
                 style: { stroke: BLUE, lineWidth: 1.2 }, silent: true });
  graphic.push({ type: 'text', x: lx + 63, y: ly, silent: true,
                 style: { text: 'Observed', fill: '#1f1fff', font: '16px ' + FONT, verticalAlign: 'middle' } });
  graphic.push({ type: 'line', shape: { x1: lx, y1: ly + 21, x2: lx + 54, y2: ly + 21 },
                 style: { stroke: '#7fe77f', lineWidth: 1.5, lineDash: [10, 12] }, silent: true });
  graphic.push({ type: 'text', x: lx + 63, y: ly + 20, silent: true,
                 style: { text: 'Fitted*', fill: '#1e8c1e', font: '16px ' + FONT, verticalAlign: 'middle' } });
});

const chart = echarts.init(document.getElementById('chart'), null, { renderer: 'canvas' });
chart.setOption({
  animation: false,
  backgroundColor: '#ffffff',
  textStyle: { fontFamily: FONT },
  title, grid, xAxis, yAxis, series, graphic
});
</script>
</body>
</html>
